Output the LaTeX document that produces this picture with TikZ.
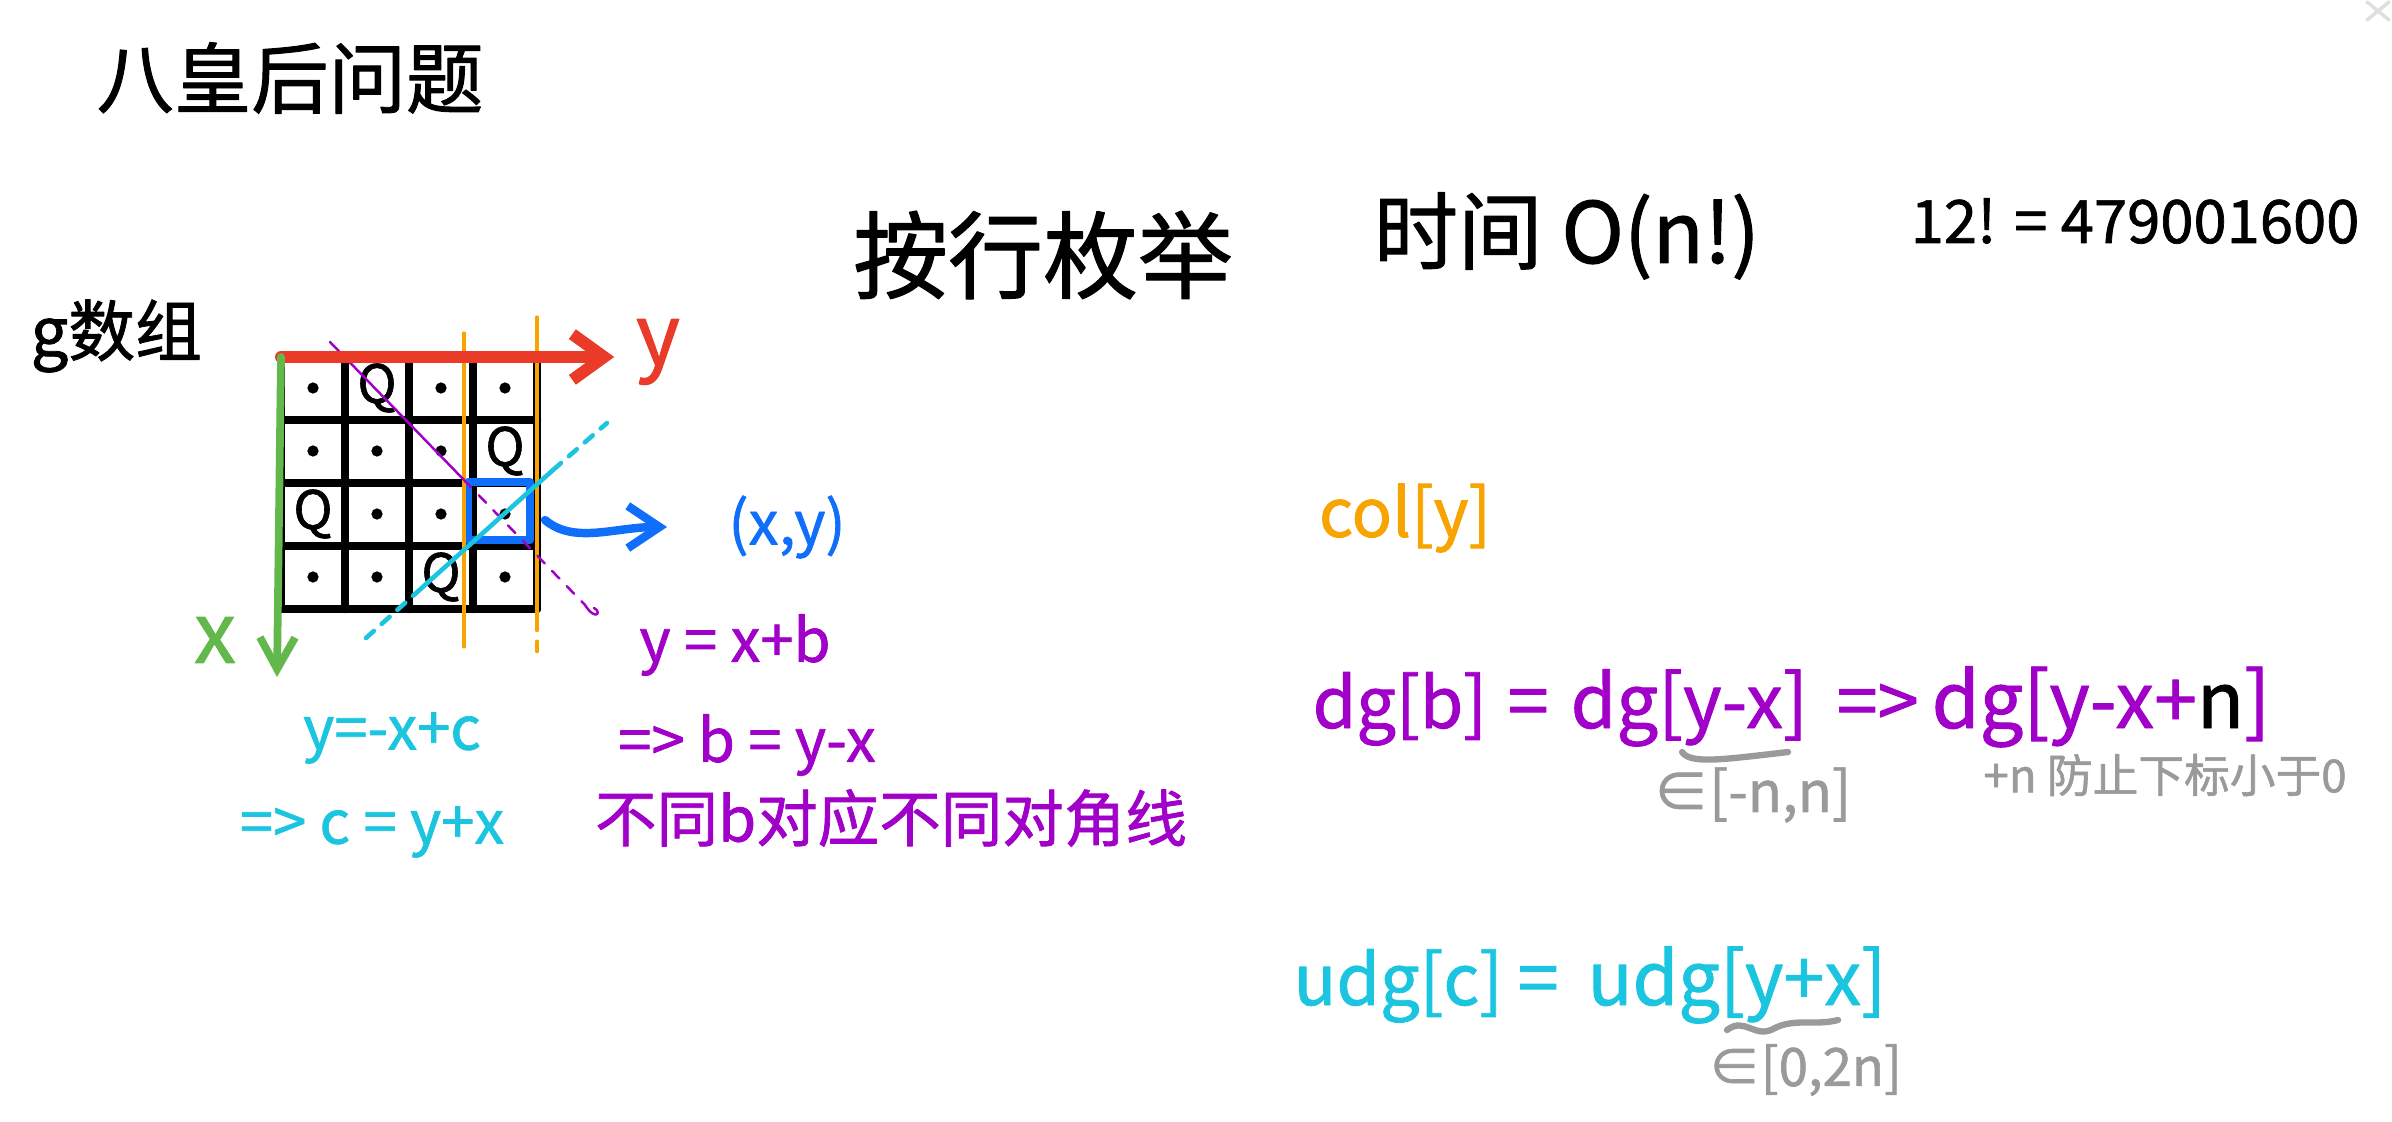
\documentclass[tikz,border=0pt]{standalone}
\usepackage{fontspec}
\newfontfamily\cjk[FakeBold=1.2]{Noto Sans CJK SC}
\usetikzlibrary{arrows.meta}
\definecolor{penred}{HTML}{EA3B28}
\definecolor{pengreen}{HTML}{62B84A}
\definecolor{penblue}{HTML}{0F6EFA}
\definecolor{penorange}{HTML}{F7A400}
\definecolor{penpurple}{HTML}{A000C8}
\definecolor{pencyan}{HTML}{1BC5DF}
\definecolor{pengray}{HTML}{9A9A9A}
\tikzset{
  txt/.style={inner sep=0pt, font=\cjk\fontsize{#1}{#1}\selectfont},
  board/.style={line width=2.4pt},
  colline/.style={penorange, line width=0.9pt},
  diagline/.style={penpurple, line width=0.7pt},
  antiline/.style={pencyan, line width=1.3pt},
  squiggle/.style={pengray, line width=1.8pt}
}
\begin{document}
\begin{tikzpicture}[x=0.01cm,y=-0.01cm,line cap=round,line join=round]
  \useasboundingbox (0,0) rectangle (2392,1122);
  % Title and first line
  \node[txt=22] (title) at (290,78) {八皇后问题};
  \node[txt=27] (enum) at (1043,255) {按行枚举};
  \node[txt=24,anchor=west] (cost) at (1373,236) {时间 O(n!)};
  \node[txt=17,anchor=west] (fact) at (1910,221) {12! = 479001600};
  \node[txt=19,anchor=west] (garr) at (30,336) {g数组};
  % Board 4x4
  \coordinate (origin) at (281,357);
  \foreach \i in {0,...,4} {
    \draw[board] (281+64*\i,357) -- (281+64*\i,609);
    \draw[board] (281,357+63*\i) -- (537,357+63*\i);
  }
  % Dots and queens
  \foreach \row/\col in {0/0,0/2,0/3,1/0,1/1,1/2,2/1,2/2,2/3,3/0,3/1,3/3}
    \fill (313+64*\col,388+63*\row) circle (1.6pt);
  \foreach \row/\col in {0/1,1/3,2/0,3/2}
    \node[txt=15] (q\row\col) at (313+64*\col,388+63*\row) {Q};
  % Current cell (x,y)
  \node[draw=penblue,line width=2.4pt,minimum width=0.62cm,minimum height=0.58cm,inner sep=0pt] (cell) at (499,511) {};
  % Columns
  \draw[colline] (464,333) -- (464,647);
  \draw[colline] (537,317) -- (537,620);
  \draw[colline,dashed] (537,620) -- (537,659);
  % Diagonal y = x + b
  \draw[diagline] (330,342) -- (464,480);
  \draw[diagline,dashed] (464,480) -- (585,605);
  \draw[diagline] (585,605) .. controls (596,622) and (602,612) .. (594,608);
  % Anti-diagonal y = -x + c
  \draw[antiline,dashed] (366,638) -- (415,594);
  \draw[antiline] (415,594) -- (553,470);
  \draw[antiline,dashed] (553,470) -- (607,423);
  % Axes
  \node[txt=24,text=penred] (ylab) at (658,352) {y};
  \node[txt=24,text=pengreen] (xlab) at (215,640) {x};
  \coordinate (xend) at (277,677);
  \draw[penred,line width=3.4pt,-{Straight Barb[length=9pt,width=13pt]},shorten >=6pt] (origin) -- (origin -| ylab.west);
  \draw[pengreen,line width=2.2pt,-{Straight Barb[length=9pt,width=10pt]}] (origin) -- (xend);
  \node[txt=17,text=penblue] (xylab) at (787,527) {(x,y)};
  \coordinate (xytip) at (667,527);
  \draw[penblue,line width=2.4pt,-{Straight Barb[length=9pt,width=12pt]},shorten <=4pt] (cell.east) to[out=-40,in=180] (xytip);
  % Notes on the diagonals
  \node[txt=17,text=penpurple] (bline) at (735,645) {y = x+b};
  \node[txt=17,text=penpurple] (bsolve) at (747,745) {=> b = y-x};
  \node[txt=17.5,text=penpurple] (bnote) at (891,818) {不同b对应不同对角线};
  \node[txt=17,text=pencyan] (cline) at (392,738) {y=-x+c};
  \node[txt=17,text=pencyan] (csolve) at (372,832) {=> c = y+x};
  % Arrays
  \node[txt=19,text=penorange] (colarr) at (1405,518) {col[y]};
  \node[txt=20,text=penpurple,anchor=base west] (dgb) at (1312,728) {dg[b]};
  \node[txt=21,text=penpurple,anchor=base west] (eqa) at (1507,728) {=};
  \node[txt=21,text=penpurple,anchor=base west] (dgyx) at (1570,728) {dg[y-x]};
  \node[txt=21,text=penpurple,anchor=base west] (impl) at (1836,728) {=>};
  \node[txt=22,text=penpurple,anchor=base west] (dgyxn) at (1931,728) {dg[y-x+\textcolor{black}{n}]};
  \draw[squiggle] (1682,752) .. controls (1690,764) and (1720,760) .. (1788,752);
  \node[txt=16,text=pengray] (dgrange) at (1752,795) {∈[-n,n]};
  \node[txt=13,text=pengray] (dgnote) at (2165,775) {+n 防止下标小于0};
  \node[txt=20,text=pencyan,anchor=base west] (udgc) at (1293,1005) {udg[c]};
  \node[txt=21,text=pencyan,anchor=base west] (eqb) at (1517,1005) {=};
  \node[txt=21,text=pencyan,anchor=base west] (udgyx) at (1587,1005) {udg[y+x]};
  \draw[squiggle] (1727,1030) .. controls (1745,1016) and (1755,1040) .. (1775,1028) .. controls (1795,1018) and (1815,1026) .. (1838,1020);
  \node[txt=15,text=pengray] (udgrange) at (1805,1070) {∈[0,2n]};
  % corner mark
  \draw[gray!25,line width=1pt] (2367,2) -- (2389,20) (2389,2) -- (2367,20);
\end{tikzpicture}
\end{document}
